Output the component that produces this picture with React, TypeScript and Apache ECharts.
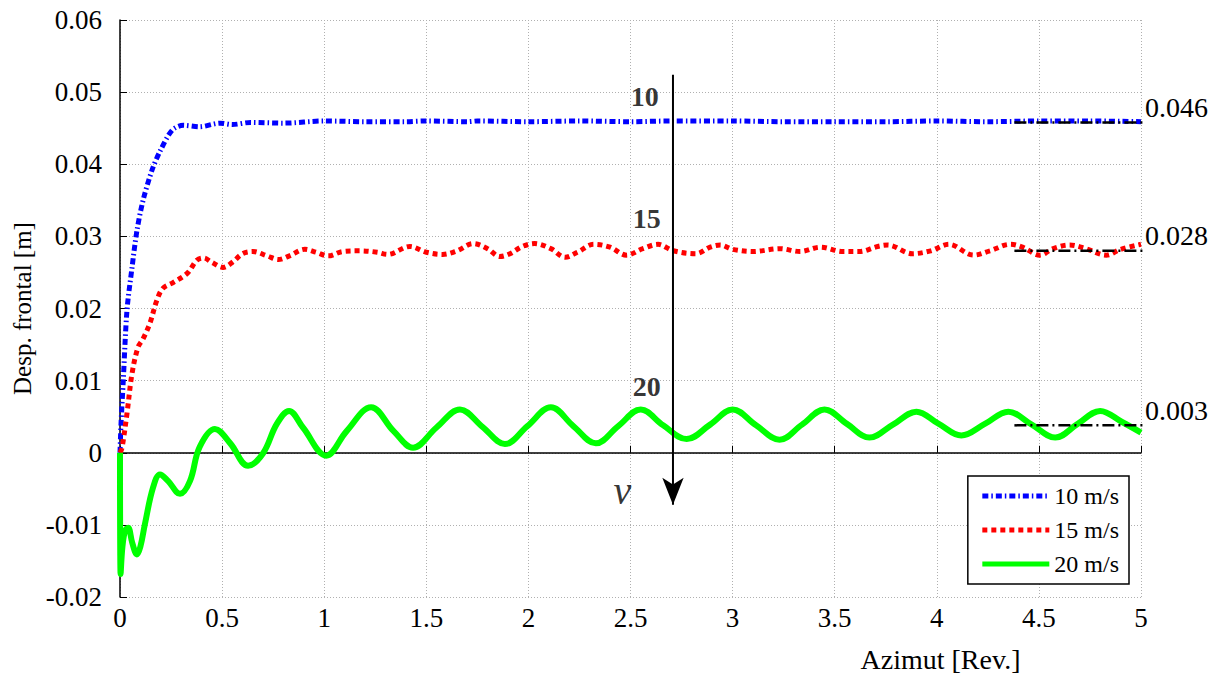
import React, { useEffect, useRef } from "react";
import * as echarts from "echarts";

const FONT = "Liberation Serif";

const xTicks = { min: 0, max: 5, interval: 0.5 };
const yTicks = { min: -0.02, max: 0.06, interval: 0.01 };

const seriesNames = ["10 m/s", "15 m/s", "20 m/s"];

const blue10: [number, number][] = [
  [0, 0], [0.005, 0.004], [0.016, 0.01], [0.034, 0.0197], [0.059, 0.0257], [0.083, 0.0308],
  [0.113, 0.035], [0.157, 0.0392], [0.196, 0.0418], [0.255, 0.0447], [0.31, 0.0454], [0.39, 0.0452],
  [0.49, 0.0457], [0.55, 0.0455], [0.64, 0.0458], [0.8, 0.0457], [1.0, 0.046], [1.2, 0.0459],
  [1.4, 0.0459], [1.5, 0.046], [1.7, 0.0459], [1.75, 0.046], [2.0, 0.0459], [2.25, 0.046],
  [2.5, 0.0459], [2.7, 0.046], [3.0, 0.046], [3.25, 0.0459], [3.5, 0.0459], [3.75, 0.0459],
  [4.0, 0.046], [4.25, 0.0459], [4.5, 0.046], [4.75, 0.046], [5.0, 0.0459],
];

const red15: [number, number][] = [
  [0, 0], [0.01, 0.0007], [0.034, 0.0054], [0.059, 0.011], [0.088, 0.0146], [0.113, 0.0158],
  [0.147, 0.018], [0.18, 0.0211], [0.21, 0.0228], [0.26, 0.0236], [0.33, 0.0249], [0.377, 0.0267],
  [0.41, 0.027], [0.45, 0.0264], [0.505, 0.0257], [0.55, 0.0264], [0.6, 0.0276], [0.65, 0.0279],
  [0.72, 0.0273], [0.775, 0.0268], [0.83, 0.0273], [0.905, 0.0282], [0.96, 0.0278], [1.02, 0.0273],
  [1.09, 0.0279], [1.175, 0.028], [1.26, 0.0278], [1.31, 0.0275], [1.42, 0.0286], [1.5, 0.0278],
  [1.58, 0.0275], [1.65, 0.028], [1.73, 0.029], [1.8, 0.0283], [1.86, 0.0272], [1.91, 0.0276],
  [1.97, 0.0286], [2.03, 0.029], [2.11, 0.0283], [2.18, 0.0271], [2.24, 0.0278], [2.32, 0.0289],
  [2.4, 0.0285], [2.48, 0.0274], [2.56, 0.0283], [2.635, 0.0289], [2.71, 0.028], [2.82, 0.0276],
  [2.89, 0.0285], [2.94, 0.0288], [3.0, 0.0282], [3.1, 0.0279], [3.23, 0.0283], [3.33, 0.0279],
  [3.43, 0.0285], [3.54, 0.0279], [3.62, 0.0279], [3.71, 0.0286], [3.76, 0.0288], [3.88, 0.0276],
  [3.97, 0.028], [4.06, 0.0289], [4.18, 0.0274], [4.26, 0.028], [4.36, 0.0289], [4.42, 0.0285],
  [4.505, 0.0274], [4.57, 0.0283], [4.65, 0.0288], [4.73, 0.0283], [4.83, 0.0274], [4.9, 0.0282],
  [5.0, 0.0289],
];

const green20: [number, number][] = [
  [0, 0], [0.003, -0.0168], [0.012, -0.013], [0.025, -0.0108], [0.04, -0.0104], [0.06, -0.0125],
  [0.083, -0.0141], [0.1, -0.013], [0.122, -0.0099], [0.162, -0.0048], [0.196, -0.003],
  [0.235, -0.0039], [0.294, -0.0057], [0.343, -0.0039], [0.39, 0.0008], [0.465, 0.0033],
  [0.54, 0.0013], [0.627, -0.0018], [0.7, -0.0001], [0.768, 0.004], [0.828, 0.0058], [0.896, 0.0035],
  [1.01, -0.0004], [1.11, 0.003], [1.23, 0.0063], [1.34, 0.003], [1.435, 0.0007], [1.55, 0.0035],
  [1.665, 0.006], [1.775, 0.0036], [1.885, 0.0012], [1.995, 0.0037], [2.11, 0.0063], [2.22, 0.0037],
  [2.33, 0.0013], [2.44, 0.0037], [2.55, 0.006], [2.66, 0.0038], [2.775, 0.0019], [2.89, 0.0039],
  [3.0, 0.006], [3.115, 0.0038], [3.23, 0.0018], [3.34, 0.0039], [3.45, 0.006], [3.56, 0.004],
  [3.67, 0.0021], [3.785, 0.0039], [3.9, 0.0057], [4.01, 0.004], [4.12, 0.0024], [4.235, 0.004],
  [4.35, 0.0057], [4.465, 0.0039], [4.58, 0.0021], [4.69, 0.004], [4.8, 0.0058], [4.905, 0.0043],
  [5.0, 0.0028],
];

// steady-state reference lines (dash-dot) with their labels
const refStart = 4.38;
const refEnd = 5.08;
const refValues = [0.0458, 0.028, 0.0038];
const refLabels = ["0.046", "0.028", "0.003"];

// speed annotations and the arrow
const speedLabels = [
  { text: "10", x: 2.57, y: 0.0494 },
  { text: "15", x: 2.58, y: 0.0325 },
  { text: "20", x: 2.58, y: 0.0092 },
];
const vLabel = { text: "v", x: 2.46, y: -0.0053 };
const arrowX = 2.708;
const arrowTop = 0.0524;
const arrowBottom = -0.0072;

export default function App() {
  const ref = useRef<HTMLDivElement>(null);
  useEffect(() => {
    if (!ref.current) return;
    const chart = echarts.init(ref.current, null, { renderer: "svg" });
    const refSeries = refValues.map((v, i) => ({
      type: "line",
      name: "ref" + i,
      data: [
        [refStart, v],
        [refEnd, v],
      ],
      symbol: "none",
      clip: false,
      silent: true,
      z: 5,
      lineStyle: { color: "#000", width: 2.5, type: [12, 4, 2, 4] },
      endLabel: {
        show: true,
        formatter: refLabels[i],
        offset: [-6, -15],
        fontSize: 28,
        fontFamily: FONT,
        color: "#000",
      },
    }));
    chart.setOption({
      animation: false,
      backgroundColor: "#fff",
      textStyle: { fontFamily: FONT },
      grid: { left: 120, right: 80, top: 20, bottom: 89 },
      legend: {
        data: seriesNames,
        orient: "vertical",
        right: 92,
        bottom: 102,
        backgroundColor: "#fff",
        borderColor: "#000",
        borderWidth: 1.5,
        padding: [8, 10, 8, 12],
        itemGap: 10,
        itemWidth: 67,
        itemHeight: 23,
        itemStyle: { opacity: 0 },
        lineStyle: { width: 5 },
        textStyle: { fontSize: 24, fontFamily: FONT, color: "#000" },
      },
      xAxis: {
        type: "value",
        min: xTicks.min,
        max: xTicks.max,
        interval: xTicks.interval,
        name: "Azimut [Rev.]",
        nameLocation: "middle",
        nameGap: 48,
        nameTextStyle: { fontSize: 28, fontFamily: FONT, color: "#000", padding: [0, 0, 0, 620] },
        axisLine: { lineStyle: { color: "#000", width: 1.5 } },
        axisTick: { inside: true, length: 7, lineStyle: { color: "#000" } },
        axisLabel: {
          fontSize: 27,
          fontFamily: FONT,
          color: "#000",
          margin: 7,
          formatter: (v: number) => String(+v.toFixed(1)),
        },
        splitLine: { show: true, lineStyle: { color: "#b0b0b0", type: [1, 2], width: 1 } },
      },
      yAxis: {
        type: "value",
        min: yTicks.min,
        max: yTicks.max,
        interval: yTicks.interval,
        offset: 5,
        name: "Desp. frontal [m]",
        nameLocation: "middle",
        nameGap: 80,
        nameTextStyle: { fontSize: 25, fontFamily: FONT, color: "#000" },
        axisLine: { show: true, lineStyle: { color: "#000", width: 1.5 } },
        axisTick: { show: true, inside: true, length: 7, lineStyle: { color: "#000" } },
        axisLabel: {
          fontSize: 27,
          fontFamily: FONT,
          color: "#000",
          margin: 13,
          formatter: (v: number) => (Math.abs(v) < 1e-9 ? "0" : v.toFixed(2)),
        },
        splitLine: { show: true, lineStyle: { color: "#b0b0b0", type: [1, 2], width: 1 } },
      },
      series: [
        {
          type: "line",
          name: seriesNames[0],
          data: blue10,
          symbol: "none",
          smooth: 0.3,
          z: 3,
          lineStyle: { color: "#0000ff", width: 5, type: [6, 3, 1.5, 3] },
          itemStyle: { color: "#0000ff" },
        },
        {
          type: "line",
          name: seriesNames[1],
          data: red15,
          symbol: "none",
          smooth: 0.35,
          z: 3,
          lineStyle: { color: "#ff0000", width: 5, type: [5, 4] },
          itemStyle: { color: "#ff0000" },
        },
        {
          type: "line",
          name: seriesNames[2],
          data: green20,
          symbol: "none",
          smooth: 0.38,
          z: 3,
          lineStyle: { color: "#00ff00", width: 6 },
          itemStyle: { color: "#00ff00" },
        },
        ...refSeries,
        {
          type: "line",
          name: "arrow",
          data: [
            { value: [arrowX, arrowTop], symbol: "none" },
            { value: [arrowX, arrowBottom], symbol: "arrow", symbolSize: [16, 27], symbolRotate: 180 },
          ],
          showSymbol: true,
          silent: true,
          z: 6,
          lineStyle: { color: "#000", width: 2 },
          itemStyle: { color: "#000" },
        },
        {
          type: "scatter",
          name: "labels",
          symbolSize: 0,
          silent: true,
          z: 7,
          data: [
            ...speedLabels.map((s) => ({
              name: s.text,
              value: [s.x, s.y],
              label: { fontWeight: "bold", fontSize: 28 },
            })),
            { name: vLabel.text, value: [vLabel.x, vLabel.y], label: { fontStyle: "italic", fontSize: 40 } },
          ],
          label: {
            show: true,
            position: "inside",
            formatter: (p: any) => p.name,
            color: "#000",
            fontFamily: FONT,
          },
        },
      ],
    });
    return () => chart.dispose();
  }, []);
  return (
    <div
      ref={ref}
      style={{ position: "fixed", left: 0, top: 0, width: 1221, height: 686, background: "#fff" }}
    />
  );
}
